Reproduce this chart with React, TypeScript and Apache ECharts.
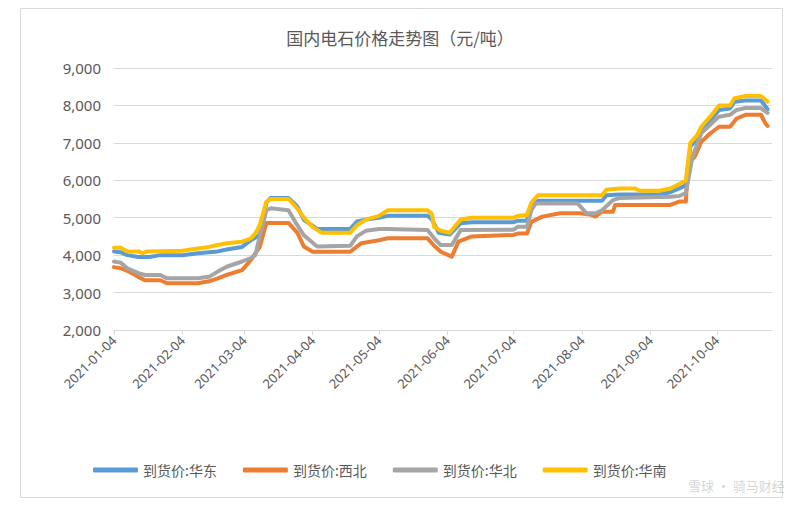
import React, { useEffect, useRef } from "react";
import * as echarts from "echarts";

const TITLE = "国内电石价格走势图（元/吨）";
const START_DAY = "2021-01-04";
const END_DAY = "2021-10-29";
const Y_MIN = 2000;
const Y_MAX = 9000;
const Y_STEP = 1000;

const seriesNames = ["到货价:华东", "到货价:西北", "到货价:华北", "到货价:华南"];
const seriesColors = ["#5B9BD5", "#ED7D31", "#A5A5A5", "#FFC000"];

// [date, price]
const huadong: [string, number][] = [
  ["2021-01-04", 4100], ["2021-01-07", 4080], ["2021-01-10", 4000], ["2021-01-15", 3950],
  ["2021-01-20", 3950], ["2021-01-25", 4000], ["2021-02-04", 4000], ["2021-02-11", 4050],
  ["2021-02-20", 4100], ["2021-02-24", 4150], ["2021-03-03", 4220], ["2021-03-07", 4400],
  ["2021-03-11", 4540], ["2021-03-14", 5400], ["2021-03-16", 5530], ["2021-03-24", 5530],
  ["2021-03-28", 5300], ["2021-03-31", 4940], ["2021-04-06", 4700], ["2021-04-21", 4700],
  ["2021-04-24", 4900], ["2021-04-28", 4950], ["2021-05-04", 5000], ["2021-05-08", 5050],
  ["2021-05-26", 5050], ["2021-05-28", 4950], ["2021-05-31", 4600], ["2021-06-05", 4550],
  ["2021-06-10", 4850], ["2021-06-15", 4880], ["2021-07-04", 4880], ["2021-07-06", 4920],
  ["2021-07-10", 4920], ["2021-07-12", 5350], ["2021-07-15", 5450], ["2021-08-13", 5450],
  ["2021-08-15", 5600], ["2021-08-21", 5620], ["2021-09-08", 5620], ["2021-09-13", 5680],
  ["2021-09-17", 5780], ["2021-09-20", 5870], ["2021-09-22", 6900], ["2021-09-25", 7100],
  ["2021-09-27", 7350], ["2021-10-01", 7600], ["2021-10-05", 7880], ["2021-10-10", 7920],
  ["2021-10-12", 8100], ["2021-10-17", 8130], ["2021-10-24", 8130], ["2021-10-26", 7980],
  ["2021-10-27", 7900],
];

const xibei: [string, number][] = [
  ["2021-01-04", 3680], ["2021-01-07", 3650], ["2021-01-10", 3580], ["2021-01-15", 3420],
  ["2021-01-18", 3330], ["2021-01-25", 3330], ["2021-01-28", 3250], ["2021-02-11", 3250],
  ["2021-02-16", 3300], ["2021-02-20", 3380], ["2021-02-24", 3470], ["2021-03-03", 3600],
  ["2021-03-07", 3870], ["2021-03-11", 4220], ["2021-03-14", 4860], ["2021-03-24", 4860],
  ["2021-03-28", 4600], ["2021-03-31", 4230], ["2021-04-04", 4090], ["2021-04-21", 4090],
  ["2021-04-26", 4320], ["2021-05-04", 4400], ["2021-05-08", 4450], ["2021-05-26", 4450],
  ["2021-05-29", 4250], ["2021-06-01", 4090], ["2021-06-06", 3960], ["2021-06-09", 4360],
  ["2021-06-15", 4500], ["2021-07-04", 4540], ["2021-07-06", 4580], ["2021-07-10", 4580],
  ["2021-07-12", 4890], ["2021-07-17", 5030], ["2021-07-25", 5120], ["2021-08-03", 5120],
  ["2021-08-08", 5080], ["2021-08-10", 5030], ["2021-08-13", 5160], ["2021-08-18", 5160],
  ["2021-08-19", 5340], ["2021-09-13", 5340], ["2021-09-17", 5430], ["2021-09-20", 5430],
  ["2021-09-21", 6460], ["2021-09-24", 6630], ["2021-09-27", 7030], ["2021-10-01", 7250],
  ["2021-10-05", 7430], ["2021-10-10", 7430], ["2021-10-13", 7650], ["2021-10-17", 7750],
  ["2021-10-24", 7750], ["2021-10-26", 7520], ["2021-10-27", 7450],
];

const huabei: [string, number][] = [
  ["2021-01-04", 3830], ["2021-01-07", 3800], ["2021-01-10", 3650], ["2021-01-15", 3520],
  ["2021-01-18", 3470], ["2021-01-25", 3470], ["2021-01-28", 3380], ["2021-02-11", 3380],
  ["2021-02-16", 3420], ["2021-02-20", 3560], ["2021-02-24", 3690], ["2021-03-03", 3830],
  ["2021-03-07", 3920], ["2021-03-09", 4000], ["2021-03-11", 4500], ["2021-03-14", 5200],
  ["2021-03-16", 5250], ["2021-03-24", 5200], ["2021-03-28", 4800], ["2021-03-31", 4530],
  ["2021-04-06", 4230], ["2021-04-21", 4250], ["2021-04-24", 4500], ["2021-04-28", 4650],
  ["2021-05-04", 4700], ["2021-05-08", 4700], ["2021-05-26", 4670], ["2021-05-29", 4450],
  ["2021-06-01", 4270], ["2021-06-06", 4270], ["2021-06-10", 4670], ["2021-07-04", 4680],
  ["2021-07-06", 4760], ["2021-07-10", 4760], ["2021-07-12", 5200], ["2021-07-14", 5380],
  ["2021-08-02", 5380], ["2021-08-04", 5250], ["2021-08-06", 5120], ["2021-08-10", 5120],
  ["2021-08-13", 5200], ["2021-08-18", 5470], ["2021-08-21", 5530], ["2021-09-13", 5560],
  ["2021-09-17", 5580], ["2021-09-20", 5660], ["2021-09-21", 6000], ["2021-09-23", 6630],
  ["2021-09-27", 7260], ["2021-10-05", 7700], ["2021-10-10", 7750], ["2021-10-13", 7880],
  ["2021-10-17", 7930], ["2021-10-24", 7930], ["2021-10-26", 7840], ["2021-10-27", 7800],
];

const huanan: [string, number][] = [
  ["2021-01-04", 4200], ["2021-01-07", 4200], ["2021-01-10", 4100], ["2021-01-15", 4100],
  ["2021-01-17", 4050], ["2021-01-19", 4100], ["2021-02-04", 4120], ["2021-02-11", 4180],
  ["2021-02-16", 4220], ["2021-02-20", 4270], ["2021-02-24", 4320], ["2021-03-03", 4360],
  ["2021-03-07", 4450], ["2021-03-09", 4580], ["2021-03-11", 4800], ["2021-03-14", 5430],
  ["2021-03-16", 5500], ["2021-03-24", 5500], ["2021-03-28", 5250], ["2021-03-31", 5000],
  ["2021-04-04", 4750], ["2021-04-08", 4600], ["2021-04-21", 4600], ["2021-04-24", 4800],
  ["2021-04-28", 4950], ["2021-05-04", 5050], ["2021-05-08", 5200], ["2021-05-26", 5200],
  ["2021-05-28", 5100], ["2021-05-29", 4750], ["2021-06-01", 4650], ["2021-06-05", 4600],
  ["2021-06-10", 4950], ["2021-06-15", 5000], ["2021-07-04", 5000], ["2021-07-06", 5050],
  ["2021-07-10", 5070], ["2021-07-12", 5400], ["2021-07-15", 5600], ["2021-08-13", 5600],
  ["2021-08-15", 5750], ["2021-08-21", 5780], ["2021-08-28", 5780], ["2021-08-30", 5720],
  ["2021-09-08", 5720], ["2021-09-13", 5780], ["2021-09-17", 5900], ["2021-09-20", 6000],
  ["2021-09-22", 7000], ["2021-09-25", 7200], ["2021-09-27", 7430], ["2021-10-01", 7700],
  ["2021-10-05", 8000], ["2021-10-10", 8000], ["2021-10-12", 8190], ["2021-10-17", 8250],
  ["2021-10-24", 8250], ["2021-10-26", 8150], ["2021-10-27", 8100],
];

const seriesData = [huadong, xibei, huabei, huanan];

function buildDays(start: string, end: string): string[] {
  const out: string[] = [];
  const d = new Date(start + "T00:00:00Z");
  const e = new Date(end + "T00:00:00Z");
  while (d.getTime() <= e.getTime()) {
    out.push(d.toISOString().slice(0, 10));
    d.setUTCDate(d.getUTCDate() + 1);
  }
  return out;
}

const days = buildDays(START_DAY, END_DAY);
const isMonthTick = (_i: number, v: string) => v.slice(8) === "04";

export default function App() {
  const ref = useRef<HTMLDivElement>(null);
  useEffect(() => {
    if (!ref.current) return;
    const chart = echarts.init(ref.current, null, { renderer: "svg" });
    chart.setOption({
      animation: false,
      backgroundColor: "#ffffff",
      title: {
        text: TITLE,
        left: "center",
        top: 24,
        textStyle: {
          fontSize: 17,
          fontWeight: "normal",
          color: "#595959",
          fontFamily: "Noto Sans CJK SC",
        },
      },
      legend: {
        data: seriesNames,
        left: 88,
        top: 458,
        icon: "roundRect",
        itemWidth: 45,
        itemHeight: 5,
        itemGap: 26,
        textStyle: { fontSize: 14, color: "#595959", fontFamily: "Noto Sans CJK SC" },
      },
      grid: { left: 114, right: 28, top: 68, bottom: 175, containLabel: false },
      xAxis: {
        type: "category",
        data: days,
        boundaryGap: false,
        axisLine: { lineStyle: { color: "#d9d9d9", width: 1 } },
        axisTick: { show: true, interval: isMonthTick, length: 5, lineStyle: { color: "#d9d9d9" } },
        axisLabel: {
          interval: isMonthTick,
          rotate: 45,
          margin: 8,
          fontSize: 13,
          color: "#595959",
          fontFamily: "Noto Sans",
        },
        splitLine: { show: false },
      },
      yAxis: {
        type: "value",
        min: Y_MIN,
        max: Y_MAX,
        interval: Y_STEP,
        axisLine: { show: false },
        axisTick: { show: false },
        axisLabel: {
          margin: 13,
          fontSize: 15,
          color: "#595959",
          fontFamily: "Noto Sans",
          formatter: (v: number) => v.toLocaleString("en-US"),
        },
        splitLine: { lineStyle: { color: "#d9d9d9", width: 1 } },
      },
      series: seriesNames.map((name, i) => ({
        name,
        type: "line",
        data: seriesData[i],
        symbol: "none",
        lineStyle: { width: 4, color: seriesColors[i], cap: "round", join: "round" },
        itemStyle: { color: seriesColors[i] },
        z: 2 + i,
      })),
      graphic: [
        {
          type: "rect",
          shape: { x: 20.5, y: 8.5, width: 762, height: 489 },
          style: { fill: "none", stroke: "#d9d9d9", lineWidth: 1 },
          silent: true,
        },
        {
          type: "text",
          x: 688,
          y: 479,
          style: {
            text: "雪球 · 骑马财经",
            fontSize: 13,
            fill: "rgba(170,170,170,0.5)",
            fontFamily: "Noto Sans CJK SC",
          },
          silent: true,
          z: 10,
        },
      ],
    });
    return () => chart.dispose();
  }, []);
  return (
    <div
      ref={ref}
      style={{ position: "fixed", left: 0, top: 0, width: 800, height: 505 }}
    />
  );
}
